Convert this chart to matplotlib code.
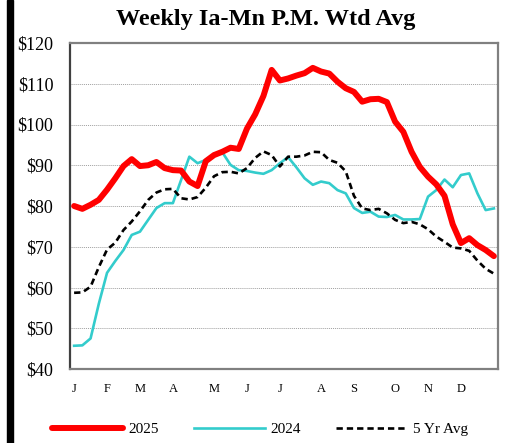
import matplotlib as mpl
mpl.use("Agg")

import matplotlib.pyplot as plt
from matplotlib.patches import Rectangle

mpl.rcParams.update({
    "font.family": ["Liberation Serif", "DejaVu Serif"],
    "axes.unicode_minus": False,
})

# weekly values, Jan..Dec (52 weeks)
y2025 = [80.0, 79.3, 80.3, 81.5, 84.0, 86.8, 89.8, 91.5, 89.8, 90.0,
         90.8, 89.3, 88.8, 88.7, 86.0, 84.9, 91.0, 92.5, 93.3, 94.3,
         94.0, 99.0, 102.5, 107.0, 113.4, 110.8, 111.3, 112.0, 112.6, 113.9,
         113.0, 112.5, 110.5, 108.9, 108.0, 105.6, 106.2, 106.3, 105.5, 100.7,
         98.2, 93.3, 89.6, 87.2, 85.3, 82.5, 75.5, 70.9, 72.1, 70.4,
         69.2, 67.7]
y2024 = [45.7, 45.8, 47.5, 56.0, 63.6, 66.5, 69.2, 72.9, 73.7, 76.6,
         79.5, 80.7, 80.7, 86.4, 92.1, 90.5, 91.3, 92.6, 93.2, 90.1,
         88.8, 88.6, 88.2, 87.9, 88.8, 90.5, 92.0, 89.5, 86.8, 85.2,
         86.0, 85.6, 83.9, 83.1, 79.5, 78.3, 78.6, 77.4, 77.3, 77.8,
         76.7, 76.7, 76.8, 82.3, 83.9, 86.5, 84.6, 87.6, 88.0, 83.1,
         79.0, 79.4]
avg5 = [58.7, 58.8, 60.2, 65.0, 69.3, 71.0, 74.1, 76.2, 78.7, 81.5,
        83.3, 84.1, 84.2, 81.9, 81.6, 82.2, 84.5, 87.3, 88.3, 88.4,
        88.0, 89.3, 91.8, 93.4, 92.5, 89.7, 92.1, 92.1, 92.4, 93.3,
        93.2, 91.3, 90.6, 88.5, 82.5, 79.4, 79.0, 79.3, 78.2, 76.6,
        75.8, 76.1, 75.5, 74.3, 72.5, 71.2, 69.8, 69.6, 69.0, 66.6,
        64.6, 63.4]
weeks = list(range(len(y2025)))

month_labels = ["J", "F", "M", "A", "M", "J", "J", "A", "S", "O", "N", "D"]
month_weeks = [0, 4, 8, 12, 17, 21, 25, 30, 34, 39, 43, 47]

fig = plt.figure(figsize=(5.09, 4.43), dpi=100)
ax = fig.add_axes([70/509, 1-369/443, 428/509, 326/443])

ax.plot(weeks, y2025, color="#ff0000", lw=4.3, solid_joinstyle="round",
        solid_capstyle="round", label="2025", zorder=4)
ax.plot(weeks, y2024, color="#33cccc", lw=1.9, solid_joinstyle="round",
        label="2024", zorder=3)
ax.plot(weeks, avg5, color="black", lw=1.9, dashes=(2.4, 1.5),
        label="5 Yr Avg", zorder=3)

ax.set_xlim(-0.5, 51.5)
ax.set_ylim(40, 120)
ax.set_yticks(range(40, 121, 10))
ax.set_yticklabels(["$%d" % v for v in range(40, 121, 10)], fontsize=13)
ax.set_xticks(month_weeks)
ax.set_xticklabels(month_labels, fontsize=9)
ax.tick_params(axis="both", length=0)
ax.tick_params(axis="y", pad=12)
ax.tick_params(axis="x", pad=10)

for v in range(50, 120, 10):
    ax.axhline(v, color="#a0a0a0", lw=0.7, ls=(0, (1, 1)), zorder=1)

for s in ax.spines.values():
    s.set_color("#808080")
    s.set_linewidth(1.6)
ax.spines["left"].set_color("#404040")

fig.text(266/509, 1-20/443, "Weekly Ia-Mn P.M. Wtd Avg", ha="center",
         va="center", fontsize=17.5, fontweight="bold")

# black bar on the left edge
fig.patches.append(Rectangle((7/509, 0), 6/509, 1, transform=fig.transFigure,
                             color="black", zorder=0))

fig.legend(loc="center", bbox_to_anchor=(260/509, 1-429/443), ncol=3,
           frameon=False, fontsize=11, handlelength=4.6, handletextpad=0.4,
           columnspacing=2.3)

plt.savefig("out.png", dpi=100)
